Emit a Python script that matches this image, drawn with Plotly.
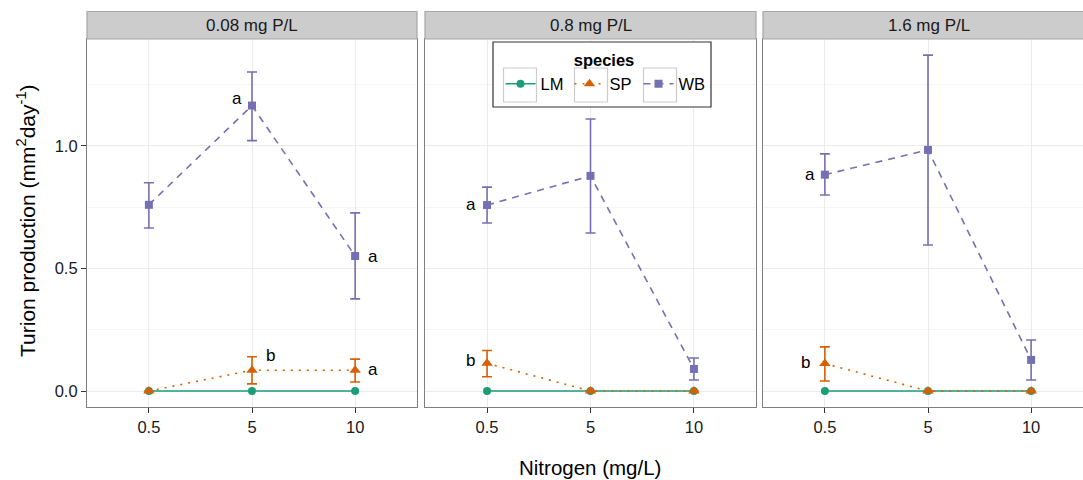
import plotly.graph_objects as go

# ---- data ----
nitrogen = ["0.5", "5", "10"]
phosphorus = ["0.08 mg P/L", "0.8 mg P/L", "1.6 mg P/L"]
species = ["LM", "SP", "WB"]

# mean turion production per panel (phosphorus level), per species, per nitrogen level
LM_mean = [[0, 0, 0], [0, 0, 0], [0, 0, 0]]
SP_mean = [[0, 0.085, 0.085], [0.113, 0, 0], [0.112, 0, 0]]
WB_mean = [[0.76, 1.165, 0.551], [0.759, 0.878, 0.09], [0.883, 0.984, 0.127]]

LM_lo = [[0, 0, 0], [0, 0, 0], [0, 0, 0]]
LM_hi = [[0, 0, 0], [0, 0, 0], [0, 0, 0]]
SP_lo = [[0, 0.029, 0.037], [0.058, 0, 0], [0.041, 0, 0]]
SP_hi = [[0, 0.14, 0.13], [0.165, 0, 0], [0.18, 0, 0]]
WB_lo = [[0.665, 1.022, 0.376], [0.686, 0.645, 0.045], [0.80, 0.596, 0.045]]
WB_hi = [[0.85, 1.302, 0.727], [0.832, 1.11, 0.135], [0.968, 1.371, 0.208]]

# significance letters: (panel index, species, nitrogen, letter)
letters = [
    (0, "WB", "5", "a"),
    (0, "WB", "10", "a"),
    (0, "SP", "5", "b"),
    (0, "SP", "10", "a"),
    (1, "WB", "0.5", "a"),
    (1, "SP", "0.5", "b"),
    (2, "WB", "0.5", "a"),
    (2, "SP", "0.5", "b"),
]

# ---- styles ----
colors = {"LM": "#1B9E77", "SP": "#D95F02", "WB": "#7570B3"}
symbols = {"LM": "circle", "SP": "triangle-up", "WB": "square"}
msize = {"LM": 8, "SP": 10, "WB": 8}
dashes = {"LM": "solid", "SP": "2px,6px", "WB": "7px,6px"}
means = {"LM": LM_mean, "SP": SP_mean, "WB": WB_mean}
los = {"LM": LM_lo, "SP": SP_lo, "WB": WB_lo}
his = {"LM": LM_hi, "SP": SP_hi, "WB": WB_hi}
# label offsets (px) relative to point
offsets = {
    (0, "WB", "5"): (-15, 7),
    (0, "WB", "10"): (18, 0),
    (0, "SP", "5"): (18, 15),
    (0, "SP", "10"): (18, 1),
    (1, "WB", "0.5"): (-16, 1),
    (1, "SP", "0.5"): (-17, 3),
    (2, "WB", "0.5"): (-15, 0),
    (2, "SP", "0.5"): (-19, 1),
}

W, H = 1083, 480
FONT = "Liberation Sans, Arial, sans-serif"
panel_px = [(87, 417), (425, 756), (763, 1083)]
top_px, bot_px = 39, 407
strip_top = 11.5

fig = go.Figure()

for p in range(3):
    xa = "x" if p == 0 else f"x{p+1}"
    ya = "y" if p == 0 else f"y{p+1}"
    for s in species:
        m = means[s][p]
        plus = [h - v for h, v in zip(his[s][p], m)]
        minus = [v - l for v, l in zip(m, los[s][p])]
        fig.add_trace(go.Scatter(
            x=nitrogen, y=m, xaxis=xa, yaxis=ya,
            mode="lines+markers", name=s, legendgroup=s,
            showlegend=(p == 0),
            line=dict(color=colors[s], width=1.6, dash=dashes[s]),
            marker=dict(color=colors[s], symbol=symbols[s], size=msize[s]),
            error_y=dict(type="data", symmetric=False, array=plus, arrayminus=minus,
                         color=colors[s], thickness=1.6, width=5,
                         visible=(s != "LM")),
        ))

layout = dict(
    width=W, height=H,
    margin=dict(l=0, r=0, t=0, b=0),
    plot_bgcolor="white", paper_bgcolor="white",
    font=dict(family=FONT, size=16, color="#000000"),
    showlegend=True,
    legend=dict(
        orientation="h", x=604 / W, xanchor="center", y=1 - 45 / H, yanchor="top",
        title=dict(text="<b>species</b>", side="top center", font=dict(size=16.5)),
        bordercolor="rgba(0,0,0,0)", borderwidth=0, bgcolor="rgba(0,0,0,0)",
        font=dict(size=16.5), itemwidth=30, entrywidth=24,
    ),
)

ydom = [1 - bot_px / H, 1 - top_px / H]
for p in range(3):
    x0, x1 = panel_px[p]
    xkey = "xaxis" if p == 0 else f"xaxis{p+1}"
    ykey = "yaxis" if p == 0 else f"yaxis{p+1}"
    xr = [-0.6, 2.6] if p < 2 else [-0.6, -0.6 + (x1 - x0) / ((417 - 87) / 3.2)]
    layout[xkey] = dict(
        domain=[x0 / W, x1 / W], type="category", range=xr,
        anchor="y" if p == 0 else f"y{p+1}",
        showgrid=True, gridcolor="#EBEBEB", gridwidth=1,
        showline=True, mirror=True, linecolor="#7F7F7F", linewidth=1.2,
        ticks="outside", ticklen=5, tickcolor="#333333", tickwidth=1.2,
        tickfont=dict(size=16.5, color="#1a1a1a"), zeroline=False,
    )
    layout[ykey] = dict(
        domain=ydom, range=[-0.0653, 1.4367],
        anchor="x" if p == 0 else f"x{p+1}",
        tickvals=[0, 0.5, 1.0], ticktext=["0.0", "0.5", "1.0"],
        showticklabels=(p == 0),
        ticks="outside" if p == 0 else "", ticklen=5, tickcolor="#333333", tickwidth=1.2,
        tickfont=dict(size=16.5, color="#1a1a1a"),
        showgrid=True, gridcolor="#EBEBEB", gridwidth=1,
        minor=dict(tickvals=[0.25, 0.75, 1.25], showgrid=True, gridcolor="#F4F4F4", gridwidth=1, ticks=""),
        showline=True, mirror=(p < 2), linecolor="#7F7F7F", linewidth=1.2,
        zeroline=False,
    )
    if p > 0:
        layout[ykey]["matches"] = "y"

fig.update_layout(**layout)

# strips
strip_right = [417, 756, 1095]
strip_centers = [(87 + 417) / 2, (425 + 756) / 2, (763 + 1094) / 2]
for p in range(3):
    x0 = panel_px[p][0]
    fig.add_shape(type="rect", xref="paper", yref="paper",
                  x0=x0 / W, x1=strip_right[p] / W, y0=1 - top_px / H, y1=1 - strip_top / H,
                  fillcolor="#CCCCCC", line=dict(color="#A6A6A6", width=1.2), layer="above")
    fig.add_annotation(xref="paper", yref="paper",
                       x=strip_centers[p] / W,
                       y=1 - ((top_px + strip_top) / 2) / H,
                       text=phosphorus[p], showarrow=False, xanchor="center", yanchor="middle",
                       font=dict(size=17, color="#1a1a1a"))

# legend frame and key boxes (ggplot-style)
fig.add_shape(type="rect", xref="paper", yref="paper",
              x0=493 / W, x1=711 / W, y0=1 - 107 / H, y1=1 - 42 / H,
              fillcolor="white", line=dict(color="#333333", width=1.2), layer="above")
for kc in [520, 591, 660]:
    fig.add_shape(type="rect", xref="paper", yref="paper",
                  x0=(kc - 16.5) / W, x1=(kc + 16.5) / W, y0=1 - 102 / H, y1=1 - 68 / H,
                  fillcolor="white", line=dict(color="#CCCCCC", width=1.2), layer="above")

# significance letters
for (p, s, n, t) in letters:
    xa = "x" if p == 0 else f"x{p+1}"
    ya = "y" if p == 0 else f"y{p+1}"
    i = nitrogen.index(n)
    dx, dy = offsets[(p, s, n)]
    fig.add_annotation(xref=xa, yref=ya, x=i, y=means[s][p][i], text=t,
                       showarrow=False, xshift=dx, yshift=dy,
                       xanchor="center", yanchor="middle",
                       font=dict(size=17, color="#000000"))

# axis titles
fig.add_annotation(xref="paper", yref="paper", x=590 / W, y=1 - 467 / H,
                   text="Nitrogen (mg/L)", showarrow=False,
                   xanchor="center", yanchor="middle",
                   font=dict(size=20.5, color="#000000"))
fig.add_annotation(xref="paper", yref="paper", x=26 / W, y=1 - 221 / H,
                   text="Turion production (mm<sup>2</sup>day<sup>-1</sup>)", textangle=-90,
                   showarrow=False, xanchor="center", yanchor="middle",
                   font=dict(size=21, color="#000000"))

fig.write_html("out.html", config={"displayModeBar": False},
               post_script="document.body.style.margin='0px';")
